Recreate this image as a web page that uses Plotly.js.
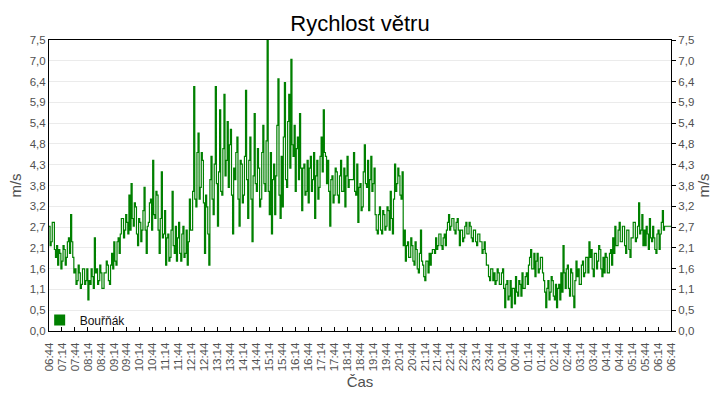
<!DOCTYPE html>
<html>
<head>
<meta charset="utf-8">
<script src="https://cdn.plot.ly/plotly-3.0.1.min.js"></script>
<style>
  html, body { margin: 0; padding: 0; background: #fff; }
  #chart { width: 720px; height: 400px; }
</style>
</head>
<body>
<div id="chart"></div>
<script>
// ── Data ─────────────────────────────────────────────────────
// WIND_A: value at the start of each 5-minute slot,
// WIND_B: the opposite swing inside the same slot (2.5 min later)
const START_UTC = Date.UTC(2024, 0, 1, 6, 44);   // 06:44
const STEP_MIN  = 5;
const WIND_A = [
  2.7, 2.3, 2.8, 1.9, 1.7, 2.0, 1.8, 2.1, 1.9, 2.4,
  3.0, 1.9, 1.6, 1.3, 1.5, 1.2, 1.6, 1.3, 0.8, 1.2,
  1.4, 2.4, 1.6, 1.3, 1.5, 1.1, 1.5, 1.7, 1.2, 2.0,
  2.3, 1.7, 2.4, 2.5, 2.9, 2.6, 2.8, 3.5, 3.8, 2.7,
  3.2, 2.2, 2.8, 2.6, 3.7, 2.0, 2.8, 3.4, 4.4, 2.9,
  3.5, 2.0, 4.1, 2.5, 1.7, 2.5, 1.9, 3.6, 2.0, 1.8,
  2.8, 1.8, 2.7, 2.0, 1.7, 3.4, 2.6, 6.3, 3.2, 5.1,
  3.7, 4.4, 2.0, 3.2, 1.7, 4.5, 3.0, 6.3, 2.7, 5.7,
  3.5, 6.1, 4.4, 3.7, 5.2, 2.5, 3.9, 5.0, 2.7, 4.3,
  3.5, 6.2, 2.9, 5.0, 2.3, 5.6, 3.6, 4.2, 3.4, 5.3,
  3.6, 7.5, 3.0, 2.5, 4.3, 4.0, 6.5, 2.9, 3.2, 6.4,
  3.7, 6.1, 7.0, 4.5, 3.6, 5.0, 5.6, 3.1, 4.3, 3.6,
  3.3, 4.5, 3.9, 2.9, 4.4, 3.7, 5.0, 5.7, 4.5, 4.4,
  2.7, 4.0, 3.5, 4.1, 3.3, 4.4, 3.6, 3.2, 4.5, 3.9,
  3.9, 4.6, 3.5, 2.8, 3.8, 3.2, 4.8, 3.7, 3.1, 4.5,
  3.8, 3.0, 2.5, 3.2, 2.5, 3.0, 2.7, 3.1, 3.6, 2.5,
  4.3, 3.8, 4.0, 3.4, 2.2, 1.8, 2.3, 1.9, 2.2, 1.7,
  2.1, 1.5, 2.6, 1.7, 1.3, 1.8, 2.0, 2.0, 2.1, 2.4,
  2.2, 2.5, 2.1, 2.5, 2.6, 3.0, 2.7, 2.9, 2.5, 2.9,
  2.2, 2.6, 2.4, 2.8, 2.5, 2.7, 2.3, 2.6, 2.2, 2.5,
  2.3, 2.1, 2.0, 1.7, 1.3, 1.6, 1.5, 1.3, 1.5, 1.2,
  1.6, 0.6, 1.3, 0.9, 0.6, 1.1, 1.4, 0.9, 1.2, 1.5,
  1.1, 1.5, 1.7, 2.1, 1.6, 1.4, 2.0, 1.6, 1.9, 1.3,
  0.6, 1.3, 1.0, 1.3, 0.8, 0.6, 1.2, 1.5, 2.2, 1.1,
  1.7, 0.9, 1.5, 0.6, 1.8, 1.6, 1.2, 1.8, 1.5, 1.9,
  2.3, 2.1, 1.4, 2.0, 1.8, 2.1, 1.4, 1.5, 1.9, 1.5,
  2.1, 2.4, 2.7, 2.2, 2.8, 2.3, 2.7, 2.0, 2.6, 1.9,
  2.4, 2.8, 2.4, 3.3, 2.6, 2.2, 2.2, 2.5, 2.9, 2.3,
  2.4, 2.0, 2.6, 2.5, 3.1, 2.7, 2.7, 2.7, 2.7,
];
const WIND_B = [
  2.2, 2.8, 2.1, 2.2, 2.1, 1.6, 2.2, 1.7, 2.3, 2.0,
  2.3, 1.5, 1.2, 1.7, 1.1, 1.6, 1.2, 1.6, 1.3, 1.6,
  1.1, 1.5, 1.2, 1.7, 1.1, 1.5, 1.8, 1.3, 1.7, 1.6,
  1.8, 2.3, 2.0, 2.9, 2.4, 3.0, 2.5, 2.6, 2.9, 3.3,
  2.5, 2.9, 2.3, 3.1, 2.6, 2.7, 3.3, 2.6, 3.0, 3.6,
  2.6, 2.9, 2.4, 3.1, 2.4, 1.8, 2.6, 2.2, 2.7, 2.4,
  2.0, 2.5, 1.9, 2.6, 2.3, 2.6, 3.6, 3.4, 4.6, 3.4,
  4.6, 3.3, 3.5, 2.5, 3.9, 3.4, 4.3, 3.8, 4.1, 3.6,
  4.7, 4.0, 5.4, 4.8, 3.5, 4.2, 4.6, 3.4, 4.4, 3.3,
  4.5, 3.9, 4.4, 3.4, 4.0, 3.8, 4.7, 3.2, 4.6, 3.8,
  4.9, 3.6, 4.6, 3.9, 3.0, 5.3, 3.5, 4.5, 5.0, 3.9,
  5.4, 4.2, 4.8, 5.3, 4.7, 3.9, 4.2, 4.2, 3.5, 4.4,
  4.2, 3.6, 4.6, 4.0, 3.4, 4.5, 4.1, 4.6, 3.8, 3.6,
  3.9, 3.3, 4.2, 3.5, 4.0, 3.6, 4.2, 4.0, 3.7, 3.9,
  3.9, 3.6, 4.3, 3.7, 3.1, 4.1, 3.8, 4.4, 3.9, 3.6,
  4.2, 2.6, 3.0, 2.6, 3.1, 2.6, 3.2, 2.6, 2.9, 3.4,
  3.6, 4.2, 3.5, 4.1, 2.6, 2.2, 1.9, 2.4, 1.8, 2.3,
  1.6, 2.0, 1.8, 1.4, 1.8, 1.5, 1.7, 2.1, 2.0, 2.1,
  2.5, 2.2, 2.4, 2.2, 2.8, 2.6, 2.9, 2.6, 2.8, 2.6,
  2.6, 2.3, 2.7, 2.5, 2.8, 2.4, 2.6, 2.3, 2.5, 2.3,
  2.0, 2.3, 1.7, 1.4, 1.6, 1.3, 1.2, 1.6, 1.2, 1.5,
  1.1, 1.2, 0.8, 1.3, 1.1, 0.7, 1.0, 1.3, 0.9, 1.1,
  1.4, 1.2, 1.9, 1.6, 2.0, 1.8, 1.5, 1.9, 1.5, 1.0,
  1.1, 0.8, 1.4, 0.9, 1.2, 1.1, 0.8, 1.0, 1.5, 1.6,
  1.1, 1.6, 0.9, 1.3, 1.4, 1.2, 1.7, 1.4, 1.9, 1.5,
  1.9, 1.6, 2.0, 1.6, 2.2, 1.6, 1.9, 2.0, 1.5, 2.0,
  1.7, 2.0, 2.2, 2.6, 2.3, 2.7, 2.2, 2.6, 2.1, 2.4,
  2.8, 2.3, 2.7, 2.5, 3.0, 2.6, 2.7, 2.1, 2.4, 2.7,
  2.1, 2.5, 2.1, 2.8, 2.6, 2.7, 2.7, 2.7,
];
const Y_MAX       = 7.5;
const Y_TICK_TEXT = ['0,0','0,5','1,1','1,6','2,1','2,7','3,2','3,8','4,3','4,8','5,4','5,9','6,4','7,0','7,5'];
const SERIES_NAME = 'Bouřňák';

// ── Colours / fonts ───────────────────────────────────────────
const C = {
  line:  '#008000',
  grid:  '#ebebeb',
  axis:  '#000000',
  tick:  '#505050',
  title: '#000000',
};
const FONT = 'Liberation Sans, Arial, sans-serif';

// interleave the two readings in time order
const xs = [], ys = [];
WIND_A.forEach((v, i) => {
  const t = START_UTC + i * STEP_MIN * 60000;
  xs.push(t); ys.push(v);
  if (i < WIND_B.length) { xs.push(t + STEP_MIN * 30000); ys.push(WIND_B[i]); }
});
const yTickVals = Y_TICK_TEXT.map((_, i) => i * Y_MAX / (Y_TICK_TEXT.length - 1));
const xEnd = START_UTC + 24 * 3600000;

const traces = [
  {
    type: 'scatter', mode: 'lines', x: xs, y: ys,
    line: { color: C.line, width: 1.2, shape: 'hv' },
    showlegend: false, hoverinfo: 'x+y',
  },
  {
    // legend entry (square marker) – carries the right-hand axis
    type: 'scatter', mode: 'markers', x: [null], y: [null], yaxis: 'y2',
    name: SERIES_NAME,
    marker: { symbol: 'square', size: 11, color: C.line },
  },
];

const yBase = {
  range: [0, Y_MAX], fixedrange: true,
  tickvals: yTickVals, ticktext: Y_TICK_TEXT,
  tickfont: { family: FONT, size: 11.5, color: C.tick },
  showline: true, linecolor: C.axis, linewidth: 1,
  zeroline: false,
  title: { text: 'm/s', font: { family: FONT, size: 15, color: C.tick }, standoff: 4 },
};

const layout = {
  width: 720, height: 400,
  paper_bgcolor: '#fff', plot_bgcolor: '#fff',
  margin: { l: 49, r: 49, t: 40, b: 69 },
  title: {
    text: 'Rychlost větru',
    font: { family: FONT, size: 22, color: C.title },
    x: 0.5, xanchor: 'center', y: 0.943, yanchor: 'middle', yref: 'container',
  },
  xaxis: {
    type: 'date',
    range: [START_UTC, xEnd],
    tick0: START_UTC, dtick: 30 * 60000,
    tickformat: '%H:%M', tickangle: -90,
    ticks: 'inside', ticklen: 4, tickcolor: C.axis,
    tickfont: { family: FONT, size: 11.5, color: C.tick },
    ticklabelstandoff: 6,
    showgrid: false, showline: true, linecolor: C.axis, linewidth: 1, mirror: true,
    zeroline: false,
    title: { text: 'Čas', font: { family: FONT, size: 15, color: C.tick }, standoff: 6 },
  },
  yaxis: {
    ...yBase,
    side: 'left', ticks: '',
    showgrid: true, gridcolor: C.grid, gridwidth: 1,
  },
  yaxis2: {
    ...yBase,
    overlaying: 'y', side: 'right',
    ticks: 'outside', ticklen: 4, tickcolor: C.axis,
    showgrid: false,
  },
  legend: {
    x: -0.015, y: -0.012, xanchor: 'left', yanchor: 'bottom',
    bgcolor: 'rgba(0,0,0,0)', borderwidth: 0,
    font: { family: FONT, size: 12, color: '#111' },
  },
  showlegend: true,
};

Plotly.newPlot('chart', traces, layout, { displayModeBar: false, staticPlot: true });
</script>
</body>
</html>
